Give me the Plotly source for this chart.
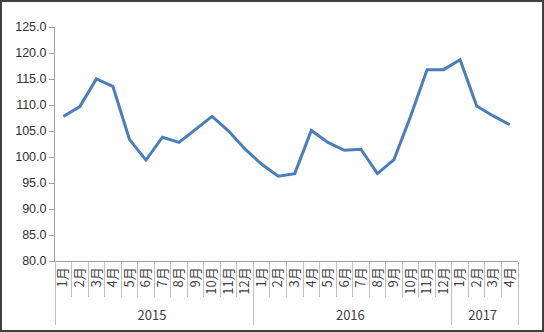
import plotly.graph_objects as go

years = ["2015"] * 12 + ["2016"] * 12 + ["2017"] * 4
months = [f"{m}月" for m in range(1, 13)] * 2 + [f"{m}月" for m in range(1, 5)]
values = [107.8, 109.7, 115.0, 113.6, 103.4, 99.4, 103.8, 102.8, 105.3, 107.8, 105.0, 101.5,
          98.6, 96.3, 96.8, 105.1, 102.8, 101.3, 101.5, 96.8, 99.5, 107.8, 116.8, 116.8,
          118.7, 109.8, 107.9, 106.2]

W, H = 544, 332
ml, mr, mt, mb = 55, 26, 27, 71
pw, ph = W - ml - mr, H - mt - mb

fig = go.Figure()
fig.add_trace(go.Scatter(x=[years, months], y=values, mode="lines",
                         line=dict(color="#4A7EBB", width=3)))

fig.update_layout(
    width=W, height=H,
    margin=dict(l=ml, r=mr, t=mt, b=mb),
    paper_bgcolor="white", plot_bgcolor="white",
    showlegend=False,
    font=dict(family="Noto Sans CJK SC, Noto Sans, sans-serif", color="#404040", size=13),
    xaxis=dict(type="multicategory", range=[-0.5, len(values) - 0.5], showgrid=False,
               automargin=False,
               showline=True, linecolor="#A0A0A0",
               linewidth=1, ticks="outside", ticklen=35, tickcolor="#C0C0C0",
               tickangle=-90, tickfont=dict(size=13),
               showdividers=True, dividercolor="#C0C0C0", dividerwidth=1),
    yaxis=dict(range=[80, 125], dtick=5, tickformat=".1f", showgrid=False, zeroline=False,
               automargin=False,
               showline=True, linecolor="#A0A0A0", linewidth=1, ticks="outside",
               ticklen=5, tickcolor="#A0A0A0",
               tickfont=dict(size=12.5, family="Liberation Sans, Noto Sans", color="#303030")),
    shapes=[dict(type="rect", xref="paper", yref="paper",
                 x0=-(ml - 1) / pw, x1=1 + (mr - 1) / pw,
                 y0=-(mb - 1) / ph, y1=1 + (mt - 1) / ph,
                 line=dict(color="#404040", width=2))],
)

fig.write_html("out.html")
